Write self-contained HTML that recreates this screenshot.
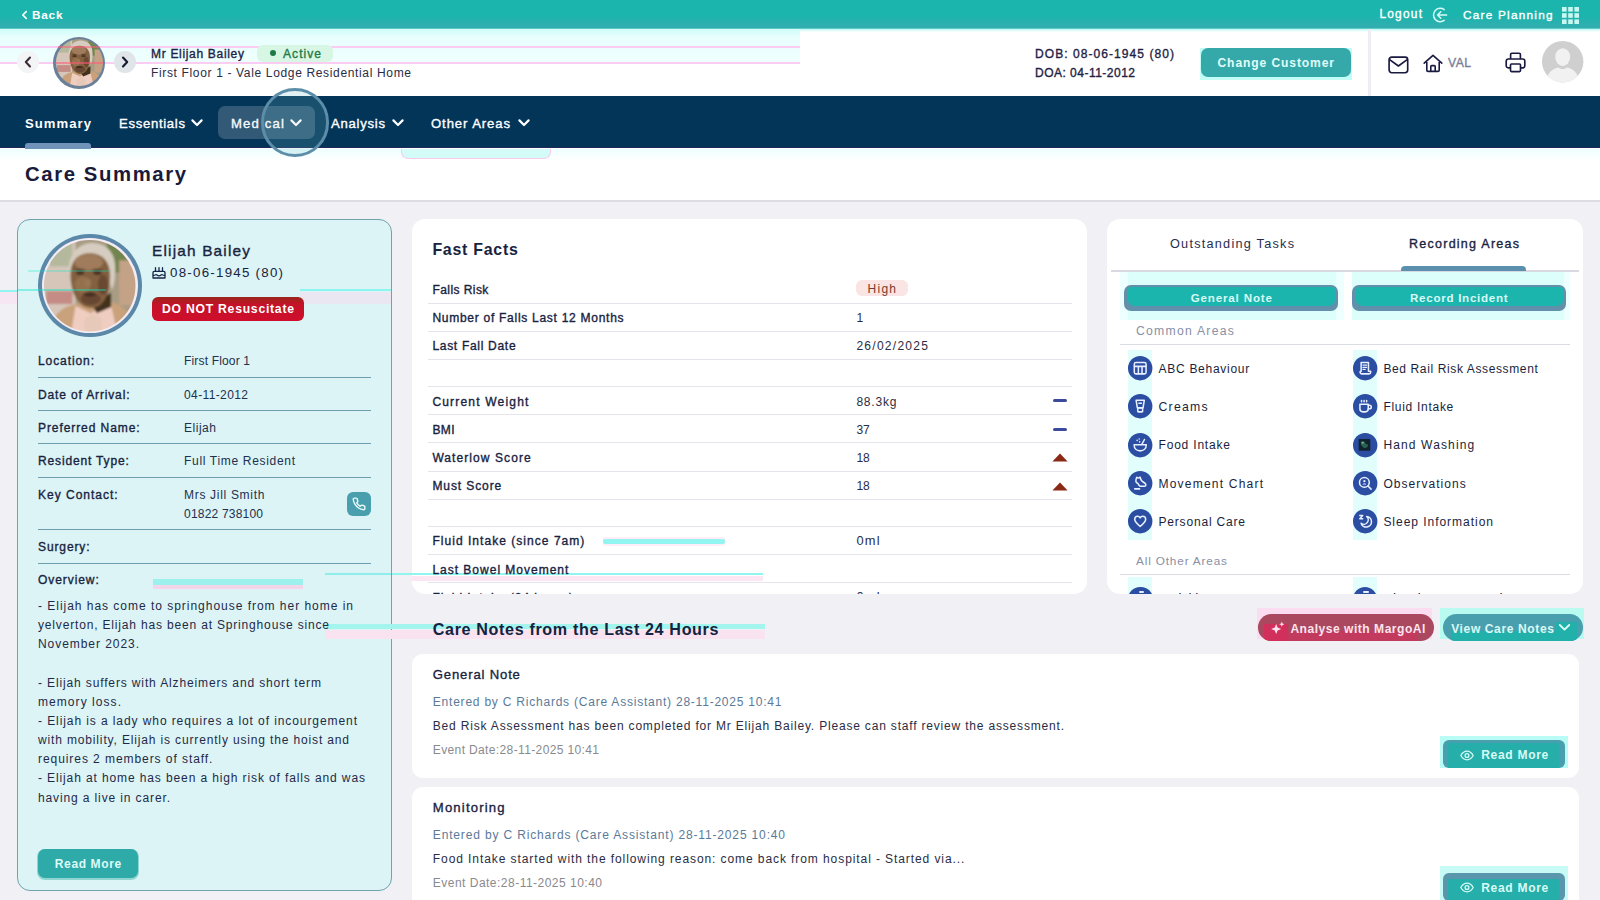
<!DOCTYPE html>
<html><head><meta charset="utf-8"><title>Care Summary</title>
<style>
*{margin:0;padding:0;box-sizing:border-box}
html,body{width:1600px;height:900px;overflow:hidden;background:#f0f0f5;font-family:"Liberation Sans",sans-serif}
#root{position:relative;width:1600px;height:900px;overflow:hidden;background:#f0f0f5}
.a{position:absolute}
.t{position:absolute;white-space:nowrap;line-height:1;font-weight:400}
.w5{-webkit-text-stroke:0.35px currentColor}
.w6{font-weight:700}
#topbar{left:0;top:0;width:1600px;height:29px;background:linear-gradient(#1cb5ae 0,#1cb5ae 55%,#33adaf 96%,#7fe0dc 100%)}
#header{left:0;top:29px;width:1600px;height:67px;background:#fff}
#nav{left:0;top:96px;width:1600px;height:52px;background:#033558;border-bottom:1px solid #1f2a5a}
#titlebar{left:0;top:148px;width:1600px;height:54px;background:#fff;border-bottom:2px solid #dcdce2}
.card{background:#fff;border-radius:13px}
.ln{position:absolute;height:1px}
.btn{position:absolute;border-radius:6px;background:#2eabab}
svg{position:absolute;overflow:visible}

</style></head>
<body>
<div id="root">
<div id="topbar" class="a"></div>
<div id="header" class="a"></div>
<div class="a" style="left:0;top:29px;width:800px;height:34.5px;background:linear-gradient(#cffcf8 0,#e9fffd 25%,#effffe 100%)"></div>
<div class="a" style="left:0;top:45.6px;width:800px;height:2px;background:#fccdf2"></div>
<div class="a" style="left:0;top:61.9px;width:800px;height:2px;background:#fccdf2"></div>
<div class="a" style="left:800px;top:29px;width:800px;height:3px;background:linear-gradient(#bdf8f3,#fff)"></div>
<div id="nav" class="a"></div>
<div id="titlebar" class="a"></div>
<div class="a" style="left:0;top:149px;width:1600px;height:11px;background:linear-gradient(#ecfffe,#fff)"></div>

<div class="a" style="left:401px;top:149px;width:150px;height:9.5px;border-radius:0 0 7px 7px;background:#d3fbf7;border:1.3px solid #fbc9ef;border-top:none"></div>
<!-- top bar icons -->
<svg style="left:21px;top:10px" width="7" height="10" viewBox="0 0 7 10"><path d="M5.2 1.6 L1.8 5 L5.2 8.4" fill="none" stroke="#fff" stroke-width="1.7" stroke-linecap="round" stroke-linejoin="round"/></svg>
<svg style="left:1432px;top:7px" width="16" height="16" viewBox="0 0 16 16"><path d="M12.2 2.6 A6.7 6.7 0 1 0 12.2 13.4" fill="none" stroke="#d8fbf6" stroke-width="1.5" stroke-linecap="round"/><path d="M14.6 8 H5.6 M8.8 4.8 L5.6 8 L8.8 11.2" fill="none" stroke="#d8fbf6" stroke-width="1.5" stroke-linecap="round" stroke-linejoin="round"/></svg>
<svg style="left:1562px;top:6.5px" width="17" height="17" viewBox="0 0 17 17" fill="#c9f7f1"><rect x="0" y="0" width="4.6" height="4.6"/><rect x="6.2" y="0" width="4.6" height="4.6"/><rect x="12.4" y="0" width="4.6" height="4.6"/><rect x="0" y="6.2" width="4.6" height="4.6"/><rect x="6.2" y="6.2" width="4.6" height="4.6"/><rect x="12.4" y="6.2" width="4.6" height="4.6"/><rect x="0" y="12.4" width="4.6" height="4.6"/><rect x="6.2" y="12.4" width="4.6" height="4.6"/><rect x="12.4" y="12.4" width="4.6" height="4.6"/></svg>

<!-- header: prev/next, avatar -->
<div class="a" style="left:17px;top:51px;width:22px;height:22px;border-radius:11px;background:#f3f4f6"></div>
<svg style="left:23px;top:55px" width="10" height="14" viewBox="0 0 10 14"><path d="M7 2.5 L2.8 7 L7 11.5" fill="none" stroke="#3a2a35" stroke-width="2" stroke-linecap="round" stroke-linejoin="round"/></svg>
<div class="a" style="left:114px;top:51px;width:22px;height:22px;border-radius:11px;background:#dfe5e9"></div>
<svg style="left:120px;top:55px" width="10" height="14" viewBox="0 0 10 14"><path d="M3 2.5 L7.2 7 L3 11.5" fill="none" stroke="#151a30" stroke-width="2.1" stroke-linecap="round" stroke-linejoin="round"/></svg>
<div class="a" style="left:53px;top:36.5px;width:52px;height:52px;border-radius:26px;background:#6a8098"></div>
<svg style="left:55.5px;top:39px" width="47" height="47" viewBox="0 0 90 90"><use href="#face"/></svg>
<div class="a" style="left:58px;top:45.6px;width:42px;height:2px;background:rgba(255,90,120,.5)"></div>
<div class="a" style="left:55px;top:61.9px;width:48px;height:2px;background:rgba(255,90,120,.55)"></div>

<div class="a" style="left:257px;top:45px;width:76px;height:16.5px;border-radius:6px;background:#d8f6e4"></div>
<div class="a" style="left:269.5px;top:50.3px;width:6px;height:6px;border-radius:3px;background:#1e7a46"></div>

<div class="a" style="left:1200px;top:47.5px;width:152px;height:32px;background:#c3fbf6"></div>
<div class="btn" style="left:1200.7px;top:48px;width:150px;height:28.5px;border-radius:7px;background:#35a9aa"></div>
<div class="a" style="left:1368px;top:29px;width:3px;height:67px;background:#ededf3"></div>
<!-- mail -->
<svg style="left:1388px;top:55.5px" width="21" height="18" viewBox="0 0 21 18"><rect x="1.1" y="1.1" width="18.6" height="15.6" rx="2.6" fill="none" stroke="#1a1a40" stroke-width="1.65"/><path d="M1.6 3.6 L10.4 10 L19.2 3.6" fill="none" stroke="#1a1a40" stroke-width="1.65" stroke-linejoin="round"/></svg>
<!-- home -->
<svg style="left:1423px;top:54px" width="20" height="19" viewBox="0 0 20 19"><path d="M1.2 9.2 L10 1.4 L18.8 9.2" fill="none" stroke="#1a1a40" stroke-width="1.6" stroke-linecap="round" stroke-linejoin="round"/><path d="M3.8 8 V16.2 a1.2 1.2 0 0 0 1.2 1.2 H15 a1.2 1.2 0 0 0 1.2 -1.2 V8" fill="none" stroke="#1a1a40" stroke-width="1.6" stroke-linejoin="round"/><path d="M7.8 17 V12.6 a1 1 0 0 1 1 -1 h2.4 a1 1 0 0 1 1 1 V17" fill="none" stroke="#1a1a40" stroke-width="1.6"/></svg>
<!-- printer -->
<svg style="left:1505px;top:52px" width="21" height="21" viewBox="0 0 21 21"><path d="M5.6 7 V2.4 a1.2 1.2 0 0 1 1.2 -1.2 h7.4 a1.2 1.2 0 0 1 1.2 1.2 V7" fill="none" stroke="#1a1a40" stroke-width="1.65"/><path d="M5.4 15.8 H3.2 a2 2 0 0 1 -2 -2 V9 a2 2 0 0 1 2 -2 H17.8 a2 2 0 0 1 2 2 V13.8 a2 2 0 0 1 -2 2 H15.6" fill="none" stroke="#1a1a40" stroke-width="1.65"/><rect x="5.5" y="12" width="10" height="7.6" rx="1" fill="#fff" stroke="#1a1a40" stroke-width="1.65"/></svg>
<!-- grey user -->
<svg style="left:1541.7px;top:41.3px" width="41.4" height="41.4" viewBox="0 0 40 40"><defs><clipPath id="uc"><circle cx="20" cy="20" r="20"/></clipPath></defs><circle cx="20" cy="20" r="20" fill="#cfcfcf"/><g clip-path="url(#uc)" fill="#f1f1f1"><ellipse cx="20" cy="15.5" rx="7.2" ry="8.6"/><path d="M4 42 C4 29 12 26 16 25.5 C18.5 27.5 21.5 27.5 24 25.5 C28 26 36 29 36 42 Z"/></g></svg>

<!-- nav -->
<div class="a" style="left:25px;top:142.5px;width:66px;height:6px;border-radius:3px 3px 0 0;background:#6f93b9"></div>
<div class="a" style="left:218px;top:106px;width:97px;height:33px;border-radius:7px;background:#325a77"></div>
<div class="a" style="left:260.5px;top:88px;width:68.5px;height:69px;border-radius:35px;border:3.6px solid #5d8ea9;background:rgba(110,190,200,0.2)"></div>
<svg class="chev" style="left:190px;top:118px" width="14" height="10" viewBox="0 0 14 10"><path d="M2.4 2.4 L7 7 L11.6 2.4" fill="none" stroke="#fff" stroke-width="2.2" stroke-linecap="round" stroke-linejoin="round"/></svg>
<svg class="chev" style="left:289px;top:118px" width="14" height="10" viewBox="0 0 14 10"><path d="M2.4 2.4 L7 7 L11.6 2.4" fill="none" stroke="#f4f8fa" stroke-width="2.2" stroke-linecap="round" stroke-linejoin="round"/></svg>
<svg class="chev" style="left:391px;top:118px" width="14" height="10" viewBox="0 0 14 10"><path d="M2.4 2.4 L7 7 L11.6 2.4" fill="none" stroke="#fff" stroke-width="2.2" stroke-linecap="round" stroke-linejoin="round"/></svg>
<svg class="chev" style="left:516.5px;top:118px" width="14" height="10" viewBox="0 0 14 10"><path d="M2.4 2.4 L7 7 L11.6 2.4" fill="none" stroke="#fff" stroke-width="2.2" stroke-linecap="round" stroke-linejoin="round"/></svg>

<!-- LEFT CARD -->
<div class="a" id="lcard" style="left:17px;top:219px;width:374.5px;height:672px;border-radius:13px;background:#dcf4f5;border:1px solid #6fa3ad"></div>
<div class="a" style="left:38px;top:233.5px;width:103.5px;height:103.5px;border-radius:52px;background:#5b87a8"></div>
<div class="a" style="left:42px;top:237.5px;width:95.5px;height:95.5px;border-radius:48px;background:#f4ecf4"></div>
<svg style="left:44px;top:239.5px" width="91.5" height="91.5" viewBox="0 0 90 90"><defs>
<g id="face"><clipPath id="fc"><circle cx="45" cy="45" r="45"/></clipPath><filter id="bl" x="-10%" y="-10%" width="120%" height="120%"><feGaussianBlur stdDeviation="0.8"/></filter><g clip-path="url(#fc)"><g filter="url(#bl)">
<rect x="-5" y="-5" width="100" height="100" fill="#a89c84"/>
<rect x="-5" y="-5" width="36" height="100" fill="#d6c6ba"/>
<rect x="6" y="2" width="22" height="24" fill="#b4b89c"/>
<rect x="2" y="50" width="26" height="13" fill="#c48c84"/>
<rect x="62" y="2" width="22" height="30" fill="#73854f"/>
<rect x="74" y="20" width="20" height="44" fill="#c4a286"/>
<path d="M6 95 C6 72 20 65 32 63 L62 60 C76 62 88 70 88 95 Z" fill="#c9a27c"/>
<path d="M26 95 L31 65 L46 72 L65 60 L73 95 Z" fill="#f0cdc1"/>
<path d="M40 77 L48 73 L57 77 L56 95 L40 95 Z" fill="#e6c9b8"/>
<path d="M46 62 L66 52 L66 66 L52 72 Z" fill="#43301f"/>
<path d="M24 34 C23 13 35 3 47 3 C61 3 71 12 70 30 C70 38 69 44 67 49 L60 30 L30 27 Z" fill="#d6ccc0"/>
<path d="M26 34 C26 20 34 13 45 13 C57 13 65 21 65 35 C65 52 59 67 46 67 C34 67 26 52 26 34 Z" fill="#83603f"/>
<ellipse cx="44" cy="22" rx="14" ry="8" fill="#a07c5c"/>
<ellipse cx="38" cy="44" rx="8" ry="8" fill="#94704e"/>
<ellipse cx="46" cy="58" rx="10" ry="6" fill="#684630"/>
<ellipse cx="58" cy="44" rx="5" ry="10" fill="#6a4a32"/>
<ellipse cx="35.5" cy="32.5" rx="4.2" ry="1.6" fill="#3a281c"/><ellipse cx="52.5" cy="32.5" rx="4.2" ry="1.6" fill="#3a281c"/><ellipse cx="35.5" cy="29.2" rx="5" ry="1" fill="#5a4030"/><ellipse cx="52.5" cy="29.2" rx="5" ry="1" fill="#5a4030"/>
<ellipse cx="43" cy="42" rx="3.4" ry="4" fill="#9a7654"/>
<ellipse cx="45" cy="53.5" rx="6.5" ry="2" fill="#452c20"/>
</g></g></g></defs><use href="#face"/></svg>
<div class="a" style="left:18px;top:289.3px;width:88px;height:2.2px;background:rgba(0,235,200,.4)"></div>
<div class="a" style="left:300px;top:289.3px;width:91px;height:2.2px;background:rgba(120,245,235,.8)"></div>
<div class="a" style="left:300px;top:291.5px;width:91px;height:12px;background:rgba(250,215,240,.45)"></div>
<div class="a" style="left:28px;top:270px;width:82px;height:1.6px;background:rgba(0,235,200,.25)"></div>
<!-- cake icon -->
<svg style="left:151.5px;top:265.5px" width="14" height="13" viewBox="0 0 14 13"><path d="M1 12 V6.6 a1.2 1.2 0 0 1 1.2 -1.2 H11.8 a1.2 1.2 0 0 1 1.2 1.2 V12 Z" fill="none" stroke="#17254a" stroke-width="1.3" stroke-linejoin="round"/><path d="M1 9 C2.5 10.4 3.5 7.8 5 9 C6 10.2 8 10.2 9 9 C10.5 7.8 11.5 10.4 13 9" fill="none" stroke="#17254a" stroke-width="1.2"/><path d="M3.5 5 V1.6 M7 5 V1.6 M10.5 5 V1.6" stroke="#17254a" stroke-width="1.3" stroke-linecap="round"/></svg>
<div class="a" style="left:152px;top:297px;width:152px;height:23.5px;border-radius:6px;background:linear-gradient(#98261b 0,#c41228 30%,#cf0e2c 100%)"></div>
<div class="ln" style="left:37.5px;width:333.5px;top:376.5px;background:#6f9fae"></div>
<div class="ln" style="left:37.5px;width:333.5px;top:410px;background:#6f9fae"></div>
<div class="ln" style="left:37.5px;width:333.5px;top:443.3px;background:#6f9fae"></div>
<div class="ln" style="left:37.5px;width:333.5px;top:476.5px;background:#6f9fae"></div>
<div class="ln" style="left:37.5px;width:333.5px;top:529.3px;background:#6f9fae"></div>
<div class="ln" style="left:37.5px;width:333.5px;top:562.5px;background:#6f9fae"></div>
<div class="a" style="left:347px;top:492px;width:24px;height:24px;border-radius:6px;background:#4a9fae"></div>
<svg style="left:352px;top:497px" width="14" height="14" viewBox="0 0 24 24"><path d="M22 16.92v3a2 2 0 0 1-2.18 2 19.79 19.79 0 0 1-8.63-3.07 19.5 19.5 0 0 1-6-6 19.79 19.79 0 0 1-3.07-8.67A2 2 0 0 1 4.11 2h3a2 2 0 0 1 2 1.72c.13.96.36 1.9.7 2.81a2 2 0 0 1-.45 2.11L8.09 9.91a16 16 0 0 0 6 6l1.27-1.27a2 2 0 0 1 2.11-.45c.91.34 1.85.57 2.81.7A2 2 0 0 1 22 16.92z" fill="none" stroke="#e6fbfa" stroke-width="2.4" stroke-linejoin="round"/></svg>
<div class="btn" style="left:38px;top:849px;width:100px;height:28.5px;border-radius:7px;background:#2eaaa9;box-shadow:0 1px 0 1px #8fd6d3"></div>

<!-- FAST FACTS -->
<div class="a card" style="left:412.4px;top:219px;width:675px;height:374.5px"></div>
<!-- ghost artifacts -->
<div class="a" style="left:602.5px;top:536.5px;width:122px;height:9px;background:#fdeef7;border-radius:2px"></div>
<div class="a" style="left:602.5px;top:539px;width:122px;height:4.5px;background:#93f5ef;border-radius:2px"></div>
<div class="a" style="left:412px;top:575.5px;width:351px;height:5px;background:#fde6f3"></div>
<div class="a" style="left:392px;top:573px;width:371px;height:2.3px;background:#8ff5ee"></div>
<div class="a" style="left:325px;top:573px;width:66px;height:2.3px;background:#8feeea"></div>
<div class="a" style="left:152.5px;top:579px;width:150px;height:6px;background:#9df1ec"></div>
<div class="a" style="left:152.5px;top:585px;width:150px;height:4px;background:#f3d6ea"></div>
<div class="a" style="left:325px;top:630px;width:440px;height:9px;background:#f9e3f0"></div>
<div class="a" style="left:325px;top:624.4px;width:440px;height:4.4px;background:#a5f5ef"></div>
<div class="a" style="left:0;top:291.5px;width:17px;height:12px;background:#f6e6f3"></div>
<div class="a" style="left:0;top:289.5px;width:17px;height:2.2px;background:#8ff5ee"></div>
<div class="a" style="left:856.4px;top:279.8px;width:51.6px;height:16.6px;border-radius:6px;background:#fae4e4;z-index:0"></div>
<div class="a" style="left:0;top:0;width:1600px;height:593.5px;overflow:hidden">
<span id="t44" class="t w5" style="left:432.4px;top:283.51px;font-size:12.04px;color:#18233f;letter-spacing:0.429px">Falls Risk</span>
<span id="t45" class="t w5" style="left:432.4px;top:312.01px;font-size:12.04px;color:#18233f;letter-spacing:0.713px">Number of Falls Last 12 Months</span>
<span id="t46" class="t w5" style="left:432.4px;top:340.21px;font-size:12.04px;color:#18233f;letter-spacing:0.690px">Last Fall Date</span>
<span id="t47" class="t w5" style="left:432.4px;top:395.51px;font-size:12.04px;color:#18233f;letter-spacing:1.177px">Current Weight</span>
<span id="t48" class="t w5" style="left:432.4px;top:423.61px;font-size:12.04px;color:#18233f;letter-spacing:0.455px">BMI</span>
<span id="t49" class="t w5" style="left:432.4px;top:452.01px;font-size:12.04px;color:#18233f;letter-spacing:1.064px">Waterlow Score</span>
<span id="t50" class="t w5" style="left:432.4px;top:480.21px;font-size:12.04px;color:#18233f;letter-spacing:0.895px">Must Score</span>
<span id="t51" class="t w5" style="left:432.4px;top:535.21px;font-size:12.04px;color:#18233f;letter-spacing:1.026px">Fluid Intake (since 7am)</span>
<span id="t52" class="t w5" style="left:432.4px;top:563.51px;font-size:12.04px;color:#18233f;letter-spacing:0.979px">Last Bowel Movement</span>
<span id="t53" class="t w5" style="left:432.4px;top:591.81px;font-size:12.04px;color:#18233f;letter-spacing:0.919px">Fluid Intake (24 hours)</span>
<span id="t54" class="t w4" style="left:867.6px;top:283.01px;font-size:12.04px;color:#7a3b2a;letter-spacing:1.217px">High</span>
<span id="t55" class="t w4" style="left:856.4px;top:312.01px;font-size:12.04px;color:#2a2d45;letter-spacing:0.000px">1</span>
<span id="t56" class="t w4" style="left:856.4px;top:340.18px;font-size:12.07px;color:#2a2d45;letter-spacing:1.247px">26/02/2025</span>
<span id="t57" class="t w4" style="left:856.4px;top:395.51px;font-size:12.04px;color:#2a2d45;letter-spacing:0.775px">88.3kg</span>
<span id="t58" class="t w4" style="left:856.4px;top:423.61px;font-size:12.04px;color:#2a2d45;letter-spacing:0.000px">37</span>
<span id="t59" class="t w4" style="left:856.4px;top:452.01px;font-size:12.04px;color:#2a2d45;letter-spacing:0.000px">18</span>
<span id="t60" class="t w4" style="left:856.4px;top:480.21px;font-size:12.04px;color:#2a2d45;letter-spacing:0.000px">18</span>
<span id="t61" class="t w4" style="left:856.4px;top:534.52px;font-size:12.85px;color:#2a2d45;letter-spacing:1.248px">0ml</span>
<span id="t62" class="t w4" style="left:856.4px;top:591.12px;font-size:12.85px;color:#2a2d45;letter-spacing:1.248px">0ml</span>
<div class="ln" style="left:428px;width:643.5px;top:302.5px;background:#e4e4ea"></div>
<div class="ln" style="left:428px;width:643.5px;top:330.7px;background:#e4e4ea"></div>
<div class="ln" style="left:428px;width:643.5px;top:359px;background:#e4e4ea"></div>
<div class="ln" style="left:428px;width:643.5px;top:386px;background:#e4e4ea"></div>
<div class="ln" style="left:428px;width:643.5px;top:414.2px;background:#e4e4ea"></div>
<div class="ln" style="left:428px;width:643.5px;top:442.4px;background:#e4e4ea"></div>
<div class="ln" style="left:428px;width:643.5px;top:470.6px;background:#e4e4ea"></div>
<div class="ln" style="left:428px;width:643.5px;top:498.9px;background:#e4e4ea"></div>
<div class="ln" style="left:428px;width:643.5px;top:526px;background:#e4e4ea"></div>
<div class="ln" style="left:428px;width:643.5px;top:554.2px;background:#e4e4ea"></div>
<div class="ln" style="left:428px;width:643.5px;top:582.4px;background:#e4e4ea"></div>
</div>
<div class="a" style="left:1053px;top:399.3px;width:14px;height:3px;border-radius:1.5px;background:#3d4a9c"></div>
<div class="a" style="left:1053px;top:427.5px;width:14px;height:3px;border-radius:1.5px;background:#3d4a9c"></div>
<svg style="left:1051.5px;top:453.3px" width="16" height="9" viewBox="0 0 16 9"><path d="M8 0.4 L15.6 8.6 H0.4 Z" fill="#8a2a16"/></svg>
<svg style="left:1051.5px;top:481.6px" width="16" height="9" viewBox="0 0 16 9"><path d="M8 0.4 L15.6 8.6 H0.4 Z" fill="#8a2a16"/></svg>

<!-- RECORDING -->
<div class="a card" style="left:1106.7px;top:219px;width:476.5px;height:374.5px;overflow:hidden" id="rcard"></div>
<div class="ln" style="left:1111px;width:468px;top:270px;height:1.5px;background:#d9d9e2"></div>
<div class="a" style="left:1401px;top:266.3px;width:125px;height:5px;border-radius:4px 4px 0 0;background:#5b8fae"></div>
<div class="a" style="left:1120px;top:272px;width:224px;height:47.6px;background:#edfffe"></div>
<div class="a" style="left:1128px;top:272px;width:208px;height:47.6px;background:#dcfffc"></div>
<div class="a" style="left:1352px;top:272px;width:218px;height:47.6px;background:#edfffe"></div>
<div class="a" style="left:1352px;top:272px;width:212px;height:47.6px;background:#dcfffc"></div>
<div class="a" style="left:1124px;top:285.1px;width:214px;height:25.5px;border-radius:7px;background:#6290aa;overflow:hidden"><div class="a" style="left:2.5px;top:1.6px;right:2.5px;bottom:4.5px;border-radius:5px 5px 8px 8px;background:#1cb5ae"></div></div>
<div class="a" style="left:1352px;top:285.1px;width:214px;height:25.5px;border-radius:7px;background:#6290aa;overflow:hidden"><div class="a" style="left:2.5px;top:1.6px;right:2.5px;bottom:4.5px;border-radius:5px 5px 8px 8px;background:#1cb5ae"></div></div>
<div class="a" style="left:1128px;top:350px;width:24px;height:190px;background:#e2fefc"></div><div class="a" style="left:1128px;top:577px;width:24px;height:16.5px;background:#e2fefc"></div>
<div class="a" style="left:1353px;top:350px;width:24px;height:190px;background:#e2fefc"></div><div class="a" style="left:1353px;top:577px;width:24px;height:16.5px;background:#e2fefc"></div>
<div class="ln" style="left:1120px;width:450px;top:344px;background:#dcdce4"></div>
<div class="ln" style="left:1120px;width:450px;top:574px;background:#dcdce4"></div>
<svg style="left:1128.3px;top:355.9px" width="24.4" height="24.4" viewBox="0 0 24 24"><circle cx="12" cy="12" r="12" fill="#2b4ea3"/><rect x="6.2" y="6.4" width="11.6" height="11.2" rx="1.6" fill="none" stroke="#e8f0ff" stroke-width="1.5" stroke-linecap="round" stroke-linejoin="round"/><path d="M6.4 10.2 H17.6 M10.2 10.4 V17.4 M13.8 10.4 V17.4" fill="none" stroke="#e8f0ff" stroke-width="1.5" stroke-linecap="round" stroke-linejoin="round"/></svg>
<svg style="left:1353.1px;top:355.9px" width="24.4" height="24.4" viewBox="0 0 24 24"><circle cx="12" cy="12" r="12" fill="#2b4ea3"/><path d="M8 6.4 H15.2 V15 H17.4 V16 A1.6 1.6 0 0 1 15.8 17.6 H8.6 A1.6 1.6 0 0 1 7 16 V15.2 H8 Z" fill="none" stroke="#e8f0ff" stroke-width="1.5" stroke-linecap="round" stroke-linejoin="round"/><path d="M9.8 9 H13.4 M9.8 11.2 H13.4 M9.8 13.2 H12" fill="none" stroke="#e8f0ff" stroke-width="1.1" stroke-linecap="round"/></svg>
<svg style="left:1128.3px;top:394.2px" width="24.4" height="24.4" viewBox="0 0 24 24"><circle cx="12" cy="12" r="12" fill="#2b4ea3"/><path d="M8 6.2 H16 L14.8 13.6 H9.2 Z" fill="none" stroke="#e8f0ff" stroke-width="1.5" stroke-linecap="round" stroke-linejoin="round"/><rect x="9.6" y="13.8" width="4.8" height="3.8" rx="0.6" fill="none" stroke="#e8f0ff" stroke-width="1.5" stroke-linecap="round" stroke-linejoin="round"/><path d="M10.8 9 H13.2" fill="none" stroke="#e8f0ff" stroke-width="1.5" stroke-linecap="round" stroke-linejoin="round"/></svg>
<svg style="left:1353.1px;top:394.2px" width="24.4" height="24.4" viewBox="0 0 24 24"><circle cx="12" cy="12" r="12" fill="#2b4ea3"/><path d="M6.8 10 H15 V14.6 A3 3 0 0 1 12 17.6 H9.8 A3 3 0 0 1 6.8 14.6 Z" fill="none" stroke="#e8f0ff" stroke-width="1.5" stroke-linecap="round" stroke-linejoin="round"/><path d="M15 11 H16.2 A1.8 1.8 0 0 1 16.2 14.6 H15" fill="none" stroke="#e8f0ff" stroke-width="1.5" stroke-linecap="round" stroke-linejoin="round"/><path d="M8.4 6.4 v1.2 M10.9 6.4 v1.2 M13.4 6.4 v1.2" fill="none" stroke="#e8f0ff" stroke-width="1.5" stroke-linecap="round" stroke-linejoin="round"/></svg>
<svg style="left:1128.3px;top:432.5px" width="24.4" height="24.4" viewBox="0 0 24 24"><circle cx="12" cy="12" r="12" fill="#2b4ea3"/><path d="M6 11.6 H18 C18 15.4 15.4 17.6 12 17.6 C8.6 17.6 6 15.4 6 11.6 Z" fill="none" stroke="#e8f0ff" stroke-width="1.5" stroke-linecap="round" stroke-linejoin="round"/><path d="M13.6 11.2 L16.2 6.4 M9 7.2 v.2 M11 5.8 v.2 M11.4 8.6 v.2" fill="none" stroke="#e8f0ff" stroke-width="1.5" stroke-linecap="round" stroke-linejoin="round"/></svg>
<svg style="left:1353.1px;top:432.5px" width="24.4" height="24.4" viewBox="0 0 24 24"><circle cx="12" cy="12" r="12" fill="#2b4ea3"/><rect x="5.6" y="6" width="11.4" height="11.4" fill="#10222c"/><path d="M7.6 8 l2 1.4 l1.6 -1 l1.4 2.4 l2.4 .6 l-1 2.6 l-2.6 1 l-2.2 -1.4 l-1.4 -2.4 Z" fill="#2f6e5a" opacity=".85"/><circle cx="9.6" cy="9.4" r="1.1" fill="#7fb8a0"/></svg>
<svg style="left:1128.3px;top:470.8px" width="24.4" height="24.4" viewBox="0 0 24 24"><circle cx="12" cy="12" r="12" fill="#2b4ea3"/><path d="M8.6 6.2 C10 7.2 11.4 6.8 11.8 6 L13 9 C13.6 10.6 16.4 11 17.4 13 C17.9 14.1 17.2 15 16.2 15 H12.4 C10.6 15 10.8 12.6 9 11.8 C7.6 11.2 7.6 8.6 8.6 6.2 Z" fill="none" stroke="#e8f0ff" stroke-width="1.5" stroke-linecap="round" stroke-linejoin="round"/><path d="M6.6 17.6 H11.4" fill="none" stroke="#e8f0ff" stroke-width="1.5" stroke-linecap="round" stroke-linejoin="round"/></svg>
<svg style="left:1353.1px;top:470.8px" width="24.4" height="24.4" viewBox="0 0 24 24"><circle cx="12" cy="12" r="12" fill="#2b4ea3"/><circle cx="11.2" cy="11.2" r="4.8" fill="none" stroke="#e8f0ff" stroke-width="1.5" stroke-linecap="round" stroke-linejoin="round"/><path d="M14.8 14.8 L17.8 17.8" fill="none" stroke="#e8f0ff" stroke-width="1.5" stroke-linecap="round" stroke-linejoin="round"/><circle cx="11.2" cy="10" r="1.1" fill="#e8f0ff"/><path d="M9.2 13.4 C9.6 11.8 12.8 11.8 13.2 13.4 Z" fill="#e8f0ff"/></svg>
<svg style="left:1128.3px;top:509.1px" width="24.4" height="24.4" viewBox="0 0 24 24"><circle cx="12" cy="12" r="12" fill="#2b4ea3"/><path d="M12 17.2 C9 14.8 6.6 12.8 6.6 10.2 C6.6 8.4 8 7.2 9.5 7.2 C10.6 7.2 11.5 7.8 12 8.7 C12.5 7.8 13.4 7.2 14.5 7.2 C16 7.2 17.4 8.4 17.4 10.2 C17.4 12.8 15 14.8 12 17.2 Z" fill="none" stroke="#e8f0ff" stroke-width="1.5" stroke-linecap="round" stroke-linejoin="round"/></svg>
<svg style="left:1353.1px;top:509.1px" width="24.4" height="24.4" viewBox="0 0 24 24"><circle cx="12" cy="12" r="12" fill="#2b4ea3"/><path d="M13.4 7.4 A5.2 5.2 0 1 1 8 14 A4.2 4.2 0 0 0 13.4 7.4 Z" fill="none" stroke="#e8f0ff" stroke-width="1.5" stroke-linecap="round" stroke-linejoin="round"/><path d="M6.6 6.4 H9.6 L6.6 9.6 H9.6" fill="none" stroke="#e8f0ff" stroke-width="1.3" stroke-linecap="round" stroke-linejoin="round"/></svg>
<div class="a" style="left:1106.7px;top:580px;width:476.5px;height:13.5px;overflow:hidden;border-radius:0 0 13px 13px"><div class="a" style="left:21.6px;top:7px;width:24.4px;height:24.4px;border-radius:13px;background:#2b4ea3"></div><div class="a" style="left:246.4px;top:7px;width:24.4px;height:24.4px;border-radius:13px;background:#2b4ea3"></div><div class="a" style="left:32px;top:11.2px;width:5px;height:2px;background:#e8f0ff;border-radius:1px"></div><div class="a" style="left:256px;top:11.2px;width:6px;height:2px;background:#e8f0ff;border-radius:1px"></div><span class="t" style="left:51.8px;top:13.3px;font-size:13.8px;color:#1a1f3d">Activities</span><span class="t" style="left:276.7px;top:13.3px;font-size:13.8px;color:#1a1f3d;letter-spacing:.5px">Blood Pressure Chart</span></div>

<!-- CARE NOTES -->
<div class="a" style="left:1257px;top:608.3px;width:175px;height:31px;background:#fcdcf0"></div>
<div class="a" style="left:1440.3px;top:608.3px;width:143.3px;height:31px;background:#b9fbf1"></div>
<div class="a" style="left:1258.4px;top:614px;width:175.6px;height:26.6px;border-radius:13.3px;background:#a9485f;overflow:hidden"><div class="a" style="left:6px;top:10px;width:24px;height:17px;background:#d2305c"></div><div class="a" style="left:30px;top:17px;width:130px;height:10px;background:#c23a5e"></div></div>
<svg style="left:1270.8px;top:621px" width="14" height="14" viewBox="0 0 14 14"><path d="M5.2 3 L6.6 6.6 L10.2 8 L6.6 9.4 L5.2 13 L3.8 9.4 L0.2 8 L3.8 6.6 Z" fill="#ffe3ee"/><path d="M10.8 0.6 L11.5 2.5 L13.4 3.2 L11.5 3.9 L10.8 5.8 L10.1 3.9 L8.2 3.2 L10.1 2.5 Z" fill="#ffe3ee"/></svg>
<div class="a" style="left:1442.6px;top:614px;width:140.4px;height:26.6px;border-radius:13.3px;background:#4a9fae;overflow:hidden"><div class="a" style="left:8px;top:17px;width:126px;height:10px;background:#22b0aa"></div><div class="a" style="left:112px;top:8px;width:22px;height:19px;background:#22b0aa"></div></div>
<svg style="left:1557.5px;top:623px" width="13" height="9" viewBox="0 0 13 9"><path d="M1.8 2 L6.5 6.6 L11.2 2" fill="none" stroke="#d8fbf6" stroke-width="1.9" stroke-linecap="round" stroke-linejoin="round"/></svg>

<div class="a card" style="left:412.4px;top:654px;width:1166.4px;height:124px;border-radius:11px"></div>
<div class="a card" style="left:412.4px;top:787.3px;width:1166.4px;height:130px;border-radius:11px"></div>
<div class="a" style="left:1440px;top:736px;width:128px;height:31.6px;background:#b9fbf5"></div>
<div class="a" style="left:1440px;top:865.5px;width:128px;height:36px;background:#c9fbf6"></div>
<div class="btn" style="left:1443.3px;top:740px;width:121.6px;height:28px;border-radius:6px;background:#4a9fae;overflow:hidden"><div class="a" style="left:5px;top:3px;width:111px;height:25px;background:#25aeaa"></div></div>
<div class="btn" style="left:1443.3px;top:873px;width:121.6px;height:28px;border-radius:6px;background:#5a97ad;overflow:hidden"><div class="a" style="left:5px;top:6px;width:111px;height:25px;background:#25aeaa"></div></div>
<svg style="left:1460px;top:749.5px" width="14" height="11" viewBox="0 0 14 11"><path d="M0.8 5.5 C2.6 2.4 4.6 1.2 7 1.2 C9.4 1.2 11.4 2.4 13.2 5.5 C11.4 8.6 9.4 9.8 7 9.8 C4.6 9.8 2.6 8.6 0.8 5.5 Z" fill="none" stroke="#d8fbf6" stroke-width="1.3"/><circle cx="7" cy="5.5" r="1.9" fill="none" stroke="#d8fbf6" stroke-width="1.3"/></svg>
<svg style="left:1460px;top:882.3px" width="14" height="11" viewBox="0 0 14 11"><path d="M0.8 5.5 C2.6 2.4 4.6 1.2 7 1.2 C9.4 1.2 11.4 2.4 13.2 5.5 C11.4 8.6 9.4 9.8 7 9.8 C4.6 9.8 2.6 8.6 0.8 5.5 Z" fill="none" stroke="#d8fbf6" stroke-width="1.3"/><circle cx="7" cy="5.5" r="1.9" fill="none" stroke="#d8fbf6" stroke-width="1.3"/></svg>

<span id="t0" class="t w6" style="left:32.0px;top:9.24px;font-size:11.77px;color:#fff;letter-spacing:0.786px">Back</span>
<span id="t1" class="t w5" style="left:1379.4px;top:9.14px;font-size:11.89px;color:#fff;letter-spacing:1.254px">Logout</span>
<span id="t2" class="t w5" style="left:1463.0px;top:9.24px;font-size:11.77px;color:#fff;letter-spacing:1.243px">Care Planning</span>
<span id="t3" class="t w5" style="left:151.0px;top:48.01px;font-size:12.04px;color:#1f2245;letter-spacing:0.672px">Mr Elijah Bailey</span>
<span id="t4" class="t w5" style="left:283.0px;top:48.01px;font-size:12.04px;color:#1e7a46;letter-spacing:1.047px">Active</span>
<span id="t5" class="t w4" style="left:151.0px;top:67.01px;font-size:12.04px;color:#2a2d45;letter-spacing:0.639px">First Floor 1 - Vale Lodge Residential Home</span>
<span id="t6" class="t w5" style="left:1035.0px;top:47.51px;font-size:12.04px;color:#1f2245;letter-spacing:1.050px">DOB: 08-06-1945 (80)</span>
<span id="t7" class="t w5" style="left:1035.0px;top:66.76px;font-size:12.04px;color:#1f2245;letter-spacing:0.471px">DOA: 04-11-2012</span>
<span id="t8" class="t w6" style="left:1217.5px;top:57.31px;font-size:12.04px;color:#e2fcf9;letter-spacing:0.920px">Change Customer</span>
<span id="t9" class="t w5" style="left:1448.0px;top:56.86px;font-size:12.22px;color:#7a7f99;letter-spacing:0.398px">VAL</span>
<span id="t10" class="t w6" style="left:25.0px;top:116.79px;font-size:13.12px;color:#fff;letter-spacing:1.042px">Summary</span>
<span id="t11" class="t w5" style="left:119.0px;top:116.79px;font-size:13.12px;color:#fff;letter-spacing:0.694px">Essentials</span>
<span id="t12" class="t w5" style="left:231.0px;top:116.79px;font-size:13.12px;color:#f6fafc;letter-spacing:1.182px">Med cal</span>
<span id="t13" class="t w5" style="left:331.0px;top:116.79px;font-size:13.12px;color:#fff;letter-spacing:0.739px">Analysis</span>
<span id="t14" class="t w5" style="left:431.0px;top:116.79px;font-size:13.12px;color:#fff;letter-spacing:0.905px">Other Areas</span>
<span id="t15" class="t w6" style="left:25.0px;top:164.28px;font-size:20.34px;color:#1a1a3a;letter-spacing:1.591px">Care Summary</span>
<span id="t16" class="t w5" style="left:152.0px;top:242.68px;font-size:15.38px;color:#18233f;letter-spacing:1.186px">Elijah Bailey</span>
<span id="t17" class="t w4" style="left:170.0px;top:265.67px;font-size:13.32px;color:#18233f;letter-spacing:1.251px">08-06-1945 (80)</span>
<span id="t18" class="t w6" style="left:162.0px;top:302.86px;font-size:12.22px;color:#fff;letter-spacing:0.734px">DO NOT Resuscitate</span>
<span id="t19" class="t w5" style="left:38.0px;top:355.01px;font-size:12.04px;color:#18233f;letter-spacing:0.895px">Location:</span>
<span id="t20" class="t w5" style="left:38.0px;top:388.61px;font-size:12.04px;color:#18233f;letter-spacing:0.840px">Date of Arrival:</span>
<span id="t21" class="t w5" style="left:38.0px;top:422.01px;font-size:12.04px;color:#18233f;letter-spacing:0.904px">Preferred Name:</span>
<span id="t22" class="t w5" style="left:38.0px;top:455.31px;font-size:12.04px;color:#18233f;letter-spacing:0.827px">Resident Type:</span>
<span id="t23" class="t w5" style="left:38.0px;top:488.81px;font-size:12.04px;color:#18233f;letter-spacing:0.974px">Key Contact:</span>
<span id="t24" class="t w5" style="left:38.0px;top:541.21px;font-size:12.04px;color:#18233f;letter-spacing:0.874px">Surgery:</span>
<span id="t25" class="t w5" style="left:38.0px;top:574.01px;font-size:12.04px;color:#18233f;letter-spacing:0.914px">Overview:</span>
<span id="t26" class="t w4" style="left:184.0px;top:355.01px;font-size:12.04px;color:#22304f;letter-spacing:0.151px">First Floor 1</span>
<span id="t27" class="t w4" style="left:184.0px;top:388.61px;font-size:12.04px;color:#22304f;letter-spacing:0.372px">04-11-2012</span>
<span id="t28" class="t w4" style="left:184.0px;top:422.01px;font-size:12.04px;color:#22304f;letter-spacing:0.512px">Elijah</span>
<span id="t29" class="t w4" style="left:184.0px;top:455.31px;font-size:12.04px;color:#22304f;letter-spacing:0.668px">Full Time Resident</span>
<span id="t30" class="t w4" style="left:184.0px;top:488.81px;font-size:12.04px;color:#22304f;letter-spacing:0.682px">Mrs Jill Smith</span>
<span id="t31" class="t w4" style="left:184.0px;top:508.01px;font-size:12.04px;color:#22304f;letter-spacing:0.186px">01822 738100</span>
<span id="t32" class="t w4" style="left:38.0px;top:600.01px;font-size:12.04px;color:#1f2a48;letter-spacing:0.962px">- Elijah has come to springhouse from her home in</span>
<span id="t33" class="t w4" style="left:38.0px;top:619.17px;font-size:12.04px;color:#1f2a48;letter-spacing:0.815px">yelverton, Elijah has been at Springhouse since</span>
<span id="t34" class="t w4" style="left:38.0px;top:638.33px;font-size:12.04px;color:#1f2a48;letter-spacing:0.927px">November 2023.</span>
<span id="t35" class="t w4" style="left:38.0px;top:676.65px;font-size:12.04px;color:#1f2a48;letter-spacing:0.851px">- Elijah suffers with Alzheimers and short term</span>
<span id="t36" class="t w4" style="left:38.0px;top:695.81px;font-size:12.04px;color:#1f2a48;letter-spacing:1.043px">memory loss.</span>
<span id="t37" class="t w4" style="left:38.0px;top:714.97px;font-size:12.04px;color:#1f2a48;letter-spacing:0.900px">- Elijah is a lady who requires a lot of incourgement</span>
<span id="t38" class="t w4" style="left:38.0px;top:734.13px;font-size:12.04px;color:#1f2a48;letter-spacing:0.838px">with mobility, Elijah is currently using the hoist and</span>
<span id="t39" class="t w4" style="left:38.0px;top:753.29px;font-size:12.04px;color:#1f2a48;letter-spacing:0.920px">requires 2 members of staff.</span>
<span id="t40" class="t w4" style="left:38.0px;top:772.45px;font-size:12.04px;color:#1f2a48;letter-spacing:0.870px">- Elijah at home has been a high risk of falls and was</span>
<span id="t41" class="t w4" style="left:38.0px;top:791.61px;font-size:12.04px;color:#1f2a48;letter-spacing:0.862px">having a live in carer.</span>
<span id="t42" class="t w6" style="left:54.8px;top:858.01px;font-size:12.04px;color:#dcfbf7;letter-spacing:0.611px">Read More</span>
<span id="t43" class="t w6" style="left:432.4px;top:241.82px;font-size:15.93px;color:#18233f;letter-spacing:0.737px">Fast Facts</span>
<span id="t63" class="t w4" style="left:1170.0px;top:238.17px;font-size:12.68px;color:#2a2d50;letter-spacing:1.248px">Outstanding Tasks</span>
<span id="t64" class="t w5" style="left:1409.0px;top:238.30px;font-size:12.52px;color:#18233f;letter-spacing:1.248px">Recording Areas</span>
<span id="t65" class="t w6" style="left:1190.7px;top:292.80px;font-size:11.58px;color:#d8fbf6;letter-spacing:0.838px">General Note</span>
<span id="t66" class="t w6" style="left:1410.0px;top:292.80px;font-size:11.58px;color:#d8fbf6;letter-spacing:0.721px">Record Incident</span>
<span id="t67" class="t w4" style="left:1136.0px;top:324.86px;font-size:12.21px;color:#8a8fa5;letter-spacing:1.245px">Common Areas</span>
<span id="t68" class="t w4" style="left:1136.0px;top:554.94px;font-size:11.77px;color:#8a8fa5;letter-spacing:0.848px">All Other Areas</span>
<span id="t69" class="t w4" style="left:1158.5px;top:362.81px;font-size:12.04px;color:#1a1f3d;letter-spacing:0.703px">ABC Behaviour</span>
<span id="t70" class="t w4" style="left:1158.5px;top:400.93px;font-size:12.25px;color:#1a1f3d;letter-spacing:1.242px">Creams</span>
<span id="t71" class="t w4" style="left:1158.5px;top:439.41px;font-size:12.04px;color:#1a1f3d;letter-spacing:0.795px">Food Intake</span>
<span id="t72" class="t w4" style="left:1158.5px;top:477.71px;font-size:12.04px;color:#1a1f3d;letter-spacing:1.197px">Movement Chart</span>
<span id="t73" class="t w4" style="left:1158.5px;top:516.01px;font-size:12.04px;color:#1a1f3d;letter-spacing:0.799px">Personal Care</span>
<span id="t74" class="t w4" style="left:1383.4px;top:362.81px;font-size:12.04px;color:#1a1f3d;letter-spacing:0.608px">Bed Rail Risk Assessment</span>
<span id="t75" class="t w4" style="left:1383.4px;top:401.11px;font-size:12.04px;color:#1a1f3d;letter-spacing:0.700px">Fluid Intake</span>
<span id="t76" class="t w4" style="left:1383.4px;top:439.41px;font-size:12.04px;color:#1a1f3d;letter-spacing:1.121px">Hand Washing</span>
<span id="t77" class="t w4" style="left:1383.4px;top:477.71px;font-size:12.04px;color:#1a1f3d;letter-spacing:1.046px">Observations</span>
<span id="t78" class="t w4" style="left:1383.4px;top:516.01px;font-size:12.04px;color:#1a1f3d;letter-spacing:0.955px">Sleep Information</span>
<span id="t79" class="t w6" style="left:432.8px;top:620.56px;font-size:16.11px;color:#14233f;letter-spacing:0.647px">Care Notes from the Last 24 Hours</span>
<span id="t80" class="t w6" style="left:1290.4px;top:623.01px;font-size:12.04px;color:#ffe3ee;letter-spacing:0.525px">Analyse with MargoAI</span>
<span id="t81" class="t w6" style="left:1451.2px;top:623.01px;font-size:12.04px;color:#d8fbf6;letter-spacing:0.616px">View Care Notes</span>
<span id="t82" class="t w5" style="left:432.8px;top:667.89px;font-size:13.12px;color:#18233f;letter-spacing:0.829px">General Note</span>
<span id="t83" class="t w4" style="left:432.8px;top:696.01px;font-size:12.04px;color:#5b7a99;letter-spacing:0.765px">Entered by C Richards (Care Assistant) 28-11-2025 10:41</span>
<span id="t84" class="t w4" style="left:432.8px;top:720.01px;font-size:12.04px;color:#2a2d45;letter-spacing:0.801px">Bed Risk Assessment has been completed for Mr Elijah Bailey. Please can staff review the assessment.</span>
<span id="t85" class="t w4" style="left:432.8px;top:744.01px;font-size:12.04px;color:#8a8a8e;letter-spacing:0.355px">Event Date:28-11-2025 10:41</span>
<span id="t86" class="t w6" style="left:1481.2px;top:749.41px;font-size:12.04px;color:#d8fbf6;letter-spacing:0.698px">Read More</span>
<span id="t87" class="t w5" style="left:432.8px;top:800.89px;font-size:13.12px;color:#18233f;letter-spacing:1.176px">Monitoring</span>
<span id="t88" class="t w4" style="left:432.8px;top:828.51px;font-size:12.04px;color:#5b7a99;letter-spacing:0.830px">Entered by C Richards (Care Assistant) 28-11-2025 10:40</span>
<span id="t89" class="t w4" style="left:432.8px;top:852.51px;font-size:12.04px;color:#2a2d45;letter-spacing:0.901px">Food Intake started with the following reason: come back from hospital - Started via...</span>
<span id="t90" class="t w4" style="left:432.8px;top:876.61px;font-size:12.04px;color:#8a8a8e;letter-spacing:0.470px">Event Date:28-11-2025 10:40</span>
<span id="t91" class="t w6" style="left:1481.2px;top:882.21px;font-size:12.04px;color:#d8fbf6;letter-spacing:0.698px">Read More</span>

</div>

</body></html>
